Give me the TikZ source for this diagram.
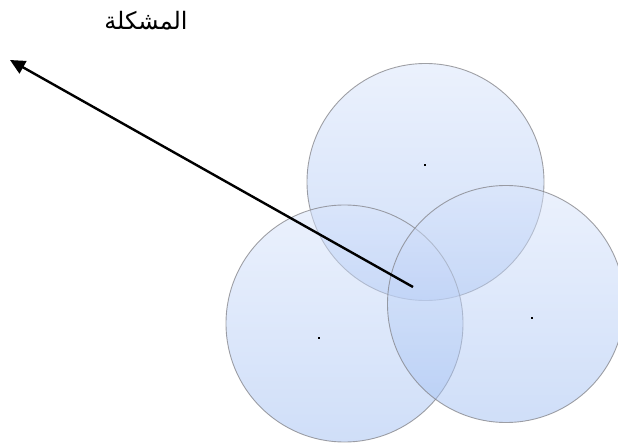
\documentclass[tikz,border=0pt]{standalone}
\usepackage{fontspec}
\newfontfamily\arabicfont[Script=Arabic]{DejaVu Sans}
\TeXXeTstate=1
\usetikzlibrary{arrows.meta}
\definecolor{ctop}{RGB}{216,228,251}
\definecolor{cbot}{RGB}{160,190,242}
\definecolor{cline}{RGB}{130,130,135}
\tikzset{
  venn/.style={circle, minimum size=237pt, inner sep=0pt, draw=cline, draw opacity=0.75, line width=0.9pt,
    top color=ctop, bottom color=cbot, fill opacity=0.5},
  dotmark/.style={fill=black, minimum size=2pt, inner sep=0pt, rectangle},
  pointer/.style={line width=2.4pt, -{Triangle[length=15pt,width=14pt]}}
}
\begin{document}
\begin{tikzpicture}[x=1pt,y=-1pt]
\useasboundingbox (0,0) rectangle (618,443);
\node[venn] (top) at (425.5,182) {};
\node[venn] (left) at (344.5,323.5) {};
\node[venn] (right) at (506,304) {};
\node[dotmark] (dtop) at (425,165) {};
\node[dotmark] (dleft) at (319,338) {};
\node[dotmark] (dright) at (532,318) {};
\coordinate (start) at (413,287);
\coordinate (tip) at (10,60);
\draw[pointer] (start) -- (tip);
\node (label) at (146,21) {\fontsize{24pt}{28pt}\selectfont\arabicfont\beginR المشكلة\endR};
\end{tikzpicture}
\end{document}
